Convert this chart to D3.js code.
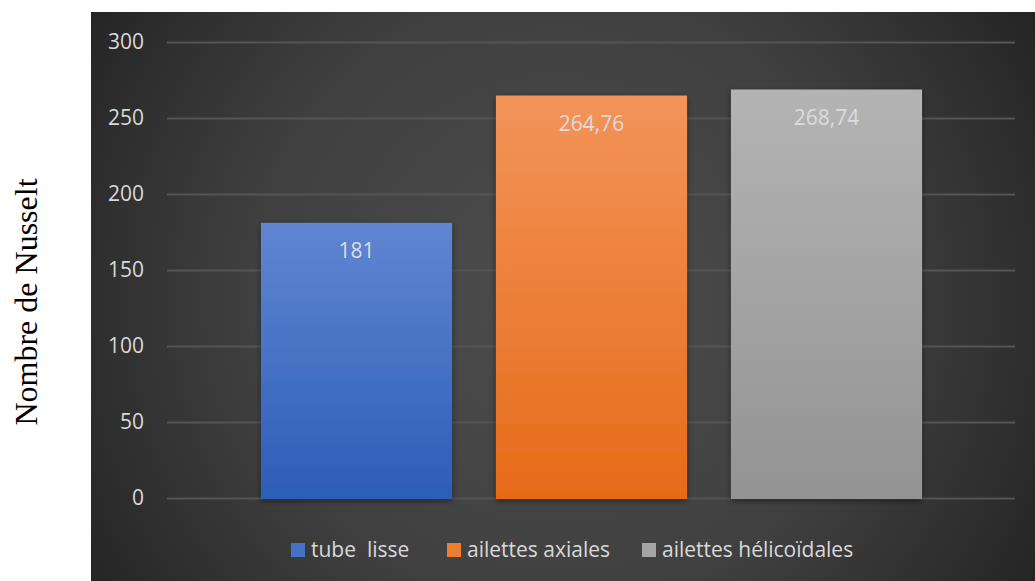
<!DOCTYPE html>
<html>
<head>
<meta charset="utf-8">
<script src="https://cdn.jsdelivr.net/npm/d3@7"></script>
<style>
  html, body { margin: 0; padding: 0; background: #ffffff; }
  svg { display: block; }
</style>
</head>
<body>
<svg id="chart" width="1035" height="581"></svg>
<script>
// Nusselt number for the three tube configurations
const categories = ["tube  lisse", "ailettes axiales", "ailettes hélicoïdales"];
const values = [181, 264.76, 268.74];
const valueLabels = ["181", "264,76", "268,74"];
const yTicks = [0, 50, 100, 150, 200, 250, 300];
const barTopColors = ["#5f86d2", "#f39459", "#b4b4b4"];
const barBottomColors = ["#2d5db7", "#e66b18", "#939393"];
const legendColors = ["#4472c4", "#ed7d31", "#a5a5a5"];

const svg = d3.select("#chart");
const defs = svg.append("defs");

// Chart-area background: soft radial light in the middle
const bg = defs.append("radialGradient").attr("id", "bgGrad")
  .attr("gradientUnits", "userSpaceOnUse")
  .attr("cx", 560).attr("cy", 300).attr("r", 560);
bg.append("stop").attr("offset", "0%").attr("stop-color", "#4d4d4d");
bg.append("stop").attr("offset", "55%").attr("stop-color", "#404040");
bg.append("stop").attr("offset", "100%").attr("stop-color", "#242424");

categories.forEach((c, i) => {
  const g = defs.append("linearGradient").attr("id", "barGrad" + i)
    .attr("x1", 0).attr("y1", 0).attr("x2", 0).attr("y2", 1);
  g.append("stop").attr("offset", "0%").attr("stop-color", barTopColors[i]);
  g.append("stop").attr("offset", "100%").attr("stop-color", barBottomColors[i]);
});

const shadow = defs.append("filter").attr("id", "barShadow")
  .attr("x", "-10%").attr("y", "-10%").attr("width", "120%").attr("height", "120%");
shadow.append("feDropShadow").attr("dx", 0).attr("dy", 2).attr("stdDeviation", 3)
  .attr("flood-color", "#000").attr("flood-opacity", 0.45);

// Dark chart panel
svg.append("rect").attr("x", 91).attr("y", 12).attr("width", 944).attr("height", 569)
  .attr("fill", "url(#bgGrad)");

const y = d3.scaleLinear().domain([0, 300]).range([498, 42]);
const x = d3.scaleBand().domain(categories).range([239, 944])
  .paddingInner(0.187).paddingOuter(0.0935);

const gridLeft = 167, gridRight = 1015;

// Gridlines
svg.append("g").selectAll("line").data(yTicks).join("line")
  .attr("x1", gridLeft).attr("x2", gridRight)
  .attr("y1", d => y(d) + 0.5).attr("y2", d => y(d) + 0.5)
  .attr("stroke", "#555555").attr("stroke-width", 2);

// Y axis tick labels
const yAxis = d3.axisLeft(y).tickValues(yTicks).tickSize(0).tickPadding(0);
const yg = svg.append("g").attr("transform", "translate(144,0)").call(yAxis);
yg.select(".domain").remove();
yg.selectAll("text")
  .attr("fill", "#d9d9d9")
  .attr("font-family", "'Open Sans', 'Noto Sans', sans-serif")
  .attr("font-size", 21);

// Bars
svg.append("g").selectAll("rect").data(values).join("rect")
  .attr("x", (d, i) => x(categories[i]))
  .attr("y", d => y(d))
  .attr("width", x.bandwidth())
  .attr("height", d => y(0) - y(d) + 1)
  .attr("fill", (d, i) => `url(#barGrad${i})`)
  .attr("filter", "url(#barShadow)");

// Value labels inside the bars
svg.append("g").selectAll("text").data(values).join("text")
  .attr("x", (d, i) => x(categories[i]) + x.bandwidth() / 2)
  .attr("y", d => y(d) + 35)
  .attr("text-anchor", "middle")
  .attr("fill", "#dcdcdc")
  .attr("font-family", "'Open Sans', 'Noto Sans', sans-serif")
  .attr("font-size", 21)
  .text((d, i) => valueLabels[i]);

// Legend
const legendX = [291, 447, 642];
const lg = svg.append("g");
categories.forEach((c, i) => {
  lg.append("rect").attr("x", legendX[i]).attr("y", 543)
    .attr("width", 14).attr("height", 14).attr("fill", legendColors[i]);
  lg.append("text").attr("x", legendX[i] + 20).attr("y", 557)
    .attr("fill", "#d9d9d9")
    .attr("font-family", "'Open Sans', 'Noto Sans', sans-serif")
    .attr("font-size", 21)
    .attr("xml:space", "preserve")
    .style("white-space", "pre")
    .text(c);
});

// Y axis title
svg.append("text")
  .attr("transform", "translate(37,302) rotate(-90)")
  .attr("text-anchor", "middle")
  .attr("fill", "#000000")
  .attr("font-family", "'Liberation Serif', 'Times New Roman', serif")
  .attr("font-size", 32)
  .text("Nombre de Nusselt");
</script>
</body>
</html>
